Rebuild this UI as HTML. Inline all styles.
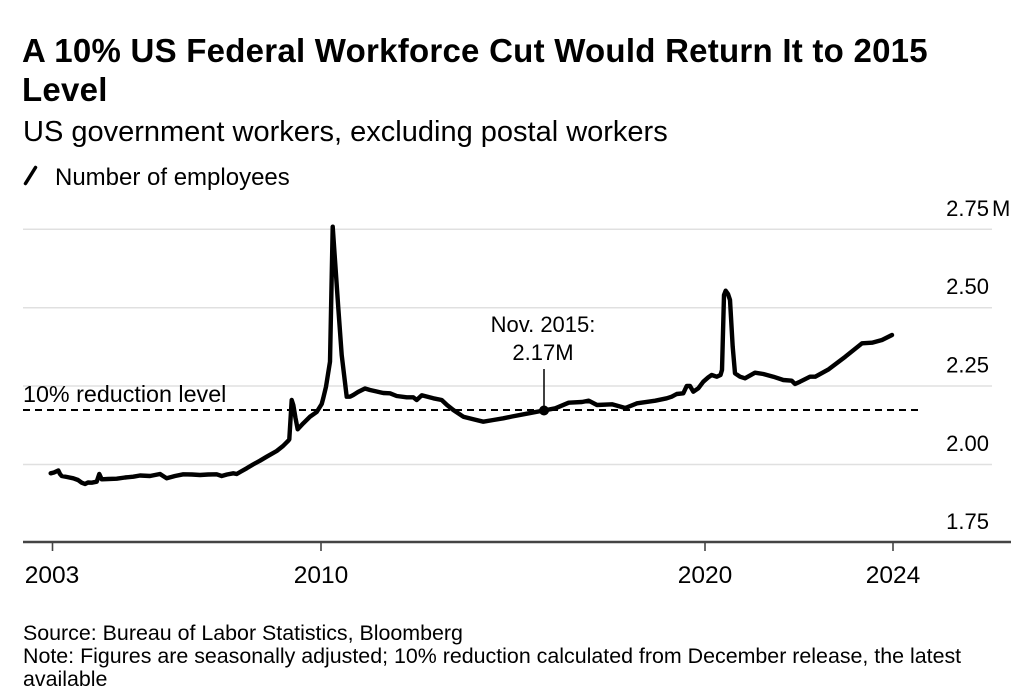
<!DOCTYPE html>
<html>
<head>
<meta charset="utf-8">
<style>
  html, body { margin: 0; padding: 0; background: #ffffff; }
  svg { display: block; }
  text { font-family: "Liberation Sans", Arial, sans-serif; fill: #000; }
</style>
</head>
<body>
<svg width="1024" height="700" viewBox="0 0 1024 700" xmlns="http://www.w3.org/2000/svg">
  <rect x="0" y="0" width="1024" height="700" fill="#ffffff"/>

  <!-- Title -->
  <text x="22" y="62" font-size="33" font-weight="bold" letter-spacing="0.25">A 10% US Federal Workforce Cut Would Return It to 2015</text>
  <text x="22" y="101" font-size="33" font-weight="bold" letter-spacing="0.25">Level</text>

  <!-- Subtitle -->
  <text x="23" y="141" font-size="29">US government workers, excluding postal workers</text>

  <!-- Legend -->
  <line x1="25.5" y1="183.5" x2="35.5" y2="167.5" stroke="#000" stroke-width="3.5" stroke-linecap="round"/>
  <text x="55" y="185" font-size="24">Number of employees</text>

  <!-- Gridlines -->
  <g stroke="#e0e0e0" stroke-width="1.5">
    <line x1="23" y1="229.3" x2="992" y2="229.3"/>
    <line x1="23" y1="307.7" x2="992" y2="307.7"/>
    <line x1="23" y1="386" x2="992" y2="386"/>
    <line x1="23" y1="464.5" x2="992" y2="464.5"/>
  </g>

  <!-- Y labels -->
  <g font-size="22" text-anchor="end">
    <text x="989" y="216">2.75</text>
    <text x="989" y="294">2.50</text>
    <text x="989" y="372.5">2.25</text>
    <text x="989" y="451">2.00</text>
    <text x="989" y="529">1.75</text>
  </g>
  <text x="992" y="216" font-size="22">M</text>

  <!-- Axis -->
  <line x1="23" y1="542" x2="1011" y2="542" stroke="#444" stroke-width="2.5"/>
  <g stroke="#444" stroke-width="1.6">
    <line x1="52.5" y1="542" x2="52.5" y2="551"/>
    <line x1="321" y1="542" x2="321" y2="551"/>
    <line x1="705" y1="542" x2="705" y2="551"/>
    <line x1="893" y1="542" x2="893" y2="551"/>
  </g>
  <g font-size="24.5" text-anchor="middle">
    <text x="52" y="583">2003</text>
    <text x="321" y="583">2010</text>
    <text x="705" y="583">2020</text>
    <text x="893" y="583">2024</text>
  </g>

  <!-- 10% reduction dashed line -->
  <line x1="23" y1="410" x2="921" y2="410" stroke="#000" stroke-width="2" stroke-dasharray="7,5"/>
  <text x="23" y="402" font-size="23.3">10% reduction level</text>

  <!-- Data line -->
  <polyline fill="none" stroke="#000" stroke-width="4.4" stroke-linejoin="round" stroke-linecap="round"
    points="50.7,473.3 54,472.5 58.3,470.5 60,474 61.7,476 67,477 73.3,478.3 78,480 81.7,482.7 85,484 88,482.5 91.7,482.7 96.7,481.7 99.3,474 101.7,479.3 108,479 116.7,478.7 125,477.5 133.3,476.7 140,475.5 150,476 155,475 160,474 166.7,478.3 175,476 183.3,474.3 192,474.5 200,475 208,474.5 216.7,474.3 221.7,476 227,474.5 233.3,473.3 236.7,474 241,471.5 246.7,468.3 253,464.5 260,460.7 266.7,456.7 276.7,451 283,446 288.3,440.7 289.3,439.3 291.7,400 293.3,405 295.5,418 297.7,429.3 303.3,423.3 310,416.7 316.7,412 321.7,404 323.3,398 326,386.7 330,361.7 332.7,226.7 338.3,308 341.7,355 346.7,396.7 350,396.7 353.3,395 358,392 365,388.5 370,390 376.7,391.5 383.3,393 390,393.3 396.7,396 406.7,397.3 413.3,397.3 416.7,400 421.7,395.3 433.3,398.3 441.7,400 447,405 453.3,410 463.3,416.7 473.3,419.3 483.3,421.7 493.3,420 503.3,418.3 512,416.5 528.7,413.3 543.7,410.5 555.3,408.3 568.7,402.7 582,402 588.7,400.7 597,405 612,404.3 625.3,408 637,403.3 655.3,400.7 666.7,398.3 671.7,396.7 676.7,394 683.3,393.3 686.7,386 690,386 693.3,391.7 698.3,388.3 703.3,381.7 708.3,377.3 711.7,375 716.7,376.7 720.5,375 722,370 724,295 725.7,290.7 728,294 730,300 732.7,346.7 735,373.3 740,376.7 745,378.3 755,372.7 763.3,374 773.3,376.7 783.3,380 791.7,380.7 795,384 800,381.7 810,376.7 815.3,376.7 828.7,369.3 845.3,356.7 862,343.3 872,342.7 882,340 892,335"/>

  <!-- Annotation -->
  <line x1="544" y1="369" x2="544" y2="410" stroke="#000" stroke-width="1.5"/>
  <circle cx="544" cy="410.5" r="5" fill="#000"/>
  <g font-size="22" text-anchor="middle">
    <text x="543" y="332">Nov. 2015:</text>
    <text x="543" y="360">2.17M</text>
  </g>

  <!-- Footer -->
  <g font-size="21.4">
    <text x="23" y="640">Source: Bureau of Labor Statistics, Bloomberg</text>
    <text x="23" y="663">Note: Figures are seasonally adjusted; 10% reduction calculated from December release, the latest</text>
    <text x="23" y="686">available</text>
  </g>
</svg>
</body>
</html>
